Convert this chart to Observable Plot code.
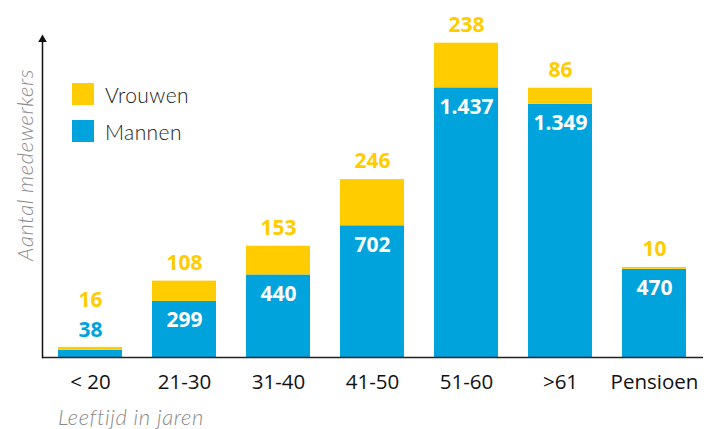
<!DOCTYPE html>
<html>
<head>
<meta charset="utf-8">
<script src="https://cdn.jsdelivr.net/npm/d3@7"></script>
<script src="https://cdn.jsdelivr.net/npm/@observablehq/plot@0.6"></script>
<style>
  body { margin: 0; background: #fff; }
  #wrap { position: relative; width: 721px; height: 429px; }
  #legend { position: absolute; left: 72px; top: 83px; font-family: Lato, "Open Sans", sans-serif; font-weight: 300; font-size: 21px; letter-spacing: 0.4px; color: #1a1a1a; }
  .item { display: flex; align-items: center; height: 22px; margin-bottom: 15px; }
  .sw { width: 22px; height: 22px; margin-right: 11px; }
  .atitle { position: absolute; white-space: nowrap; font-family: Lato, "Open Sans", sans-serif; font-style: italic; font-weight: 300; font-size: 22px; letter-spacing: 0.6px; color: #8a8a8a; line-height: 1; }
  #ytitle { left: 25px; top: 165px; transform: translate(-50%, -50%) rotate(-90deg); }
  #xtitle { left: 58px; top: 417px; transform: translate(0, -50%); }
</style>
</head>
<body>
<div id="wrap">
  <div id="chart"></div>
  <div id="legend"></div>
  <div class="atitle" id="ytitle"></div>
  <div class="atitle" id="xtitle"></div>
</div>
<script>
const categories = ["< 20", "21-30", "31-40", "41-50", "51-60", ">61", "Pensioen"];
const mannen = [38, 299, 440, 702, 1437, 1349, 470];
const vrouwen = [16, 108, 153, 246, 238, 86, 10];
const seriesNames = ["Mannen", "Vrouwen"];
const seriesColors = ["#00a3dc", "#ffcc00"];
const legendOrder = ["Vrouwen", "Mannen"];
const yTitle = "Aantal medewerkers";
const xTitle = "Leeftijd in jaren";

const nl = d3.formatLocale({decimal: ",", thousands: ".", grouping: [3], currency: ["€", ""]});
const fmt = nl.format(",d");

const rows = [];
categories.forEach((c, i) => {
  rows.push({cat: c, sex: "Mannen", value: mannen[i]});
  rows.push({cat: c, sex: "Vrouwen", value: vrouwen[i]});
});
const totals = categories.map((c, i) => ({cat: c, m: mannen[i], v: vrouwen[i], total: mannen[i] + vrouwen[i]}));
const small = totals.filter(d => d.m < 100);
const big = totals.filter(d => d.m >= 100);

const numFont = {fontFamily: "'Open Sans', sans-serif", fontWeight: 700, fontSize: 21};

const chart = Plot.plot({
  width: 721,
  height: 429,
  marginLeft: 42,
  marginRight: 18,
  marginTop: 38,
  marginBottom: 72,
  style: {fontFamily: "'Open Sans', sans-serif", background: "#fff"},
  x: {domain: categories, paddingInner: 0.314, paddingOuter: 0.148, label: null},
  y: {domain: [0, 1700], axis: null},
  color: {domain: seriesNames, range: seriesColors},
  marks: [
    Plot.barY(rows, Plot.stackY({x: "cat", y: "value", fill: "sex", order: null})),
    Plot.ruleY([0], {stroke: "#222", strokeWidth: 1.5}),
    Plot.frame({anchor: "left", stroke: "#111", strokeWidth: 1.5}),
    Plot.dot([0], {frameAnchor: "top-left", symbol: "triangle", r: 3.2, fill: "#111", stroke: null, dy: 1}),
    Plot.axisX({tickSize: 0, tickPadding: 17, fontSize: 20.5, fill: "#111"}),
    Plot.text(big, {x: "cat", y: "total", text: d => fmt(d.v), dy: -18, fill: "#ffcc00", ...numFont}),
    Plot.text(big, {x: "cat", y: "m", text: d => fmt(d.m), dy: 19, fill: "#fff", ...numFont}),
    Plot.text(small, {x: "cat", y: "total", text: d => fmt(d.m), dy: -17, fill: "#00a3dc", ...numFont}),
    Plot.text(small, {x: "cat", y: "total", text: d => fmt(d.v), dy: -47, fill: "#ffcc00", ...numFont})
  ]
});
document.getElementById("chart").appendChild(chart);
document.getElementById("ytitle").textContent = yTitle;
document.getElementById("xtitle").textContent = xTitle;

const legend = document.getElementById("legend");
legendOrder.forEach(name => {
  const item = document.createElement("div");
  item.className = "item";
  const sw = document.createElement("div");
  sw.className = "sw";
  sw.style.background = seriesColors[seriesNames.indexOf(name)];
  const t = document.createElement("span");
  t.textContent = name;
  item.appendChild(sw);
  item.appendChild(t);
  legend.appendChild(item);
});
</script>
</body>
</html>
